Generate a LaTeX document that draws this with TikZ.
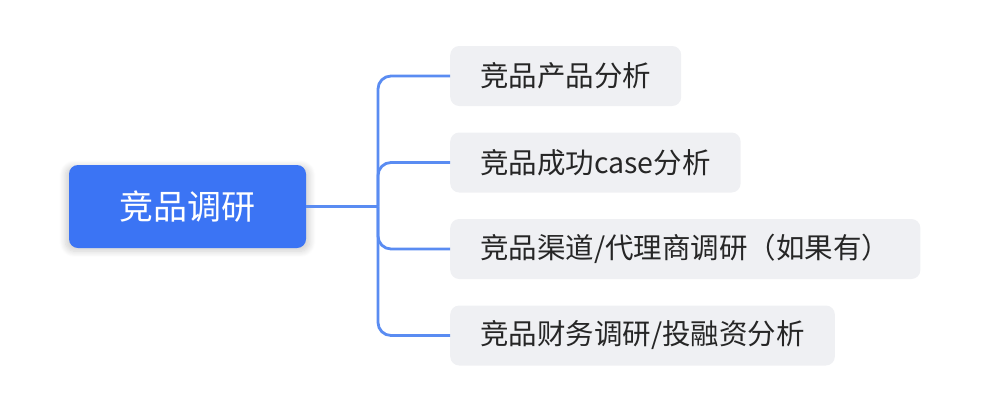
\documentclass[tikz,border=0pt]{standalone}
\usepackage{fontspec}
\setmainfont{Noto Sans CJK SC}
\usetikzlibrary{shadows.blur}

\definecolor{rootblue}{HTML}{3B74F4}
\definecolor{linkblue}{HTML}{5A8CF2}
\definecolor{leafgray}{HTML}{EFF0F3}
\definecolor{leaftext}{HTML}{262626}

\tikzset{
  rootbox/.style={fill=rootblue, text=white, rounded corners=9pt,
    minimum height=83pt, inner xsep=50pt, font=\fontsize{34}{40}\selectfont,
    blur shadow={shadow blur steps=8, shadow xshift=0pt, shadow yshift=-2pt,
      shadow opacity=18, shadow scale=1.03, shadow blur radius=6pt}},
  leafbox/.style={fill=leafgray, text=leaftext, rounded corners=9pt,
    minimum height=60pt, inner xsep=30pt, anchor=west,
    font=\fontsize{28.5}{34}\selectfont},
  link/.style={draw=linkblue, line width=2.8pt}
}

\begin{document}
\begin{tikzpicture}[x=1pt,y=-1pt]

\useasboundingbox
(0,0)
rectangle
(1006,410);

% Racine
\node[rootbox, minimum width=237pt] (root)
at (187.5,206.5)
{竞品调研};

% Feuilles
\node[leafbox] (prod)
at (450,76)
{竞品产品分析};

\node[leafbox] (case)
at (450,162.5)
{竞品成功case分析};

\node[leafbox] (chan)
at (450,249)
{竞品渠道/代理商调研（如果有）};

\node[leafbox] (fin)
at (450,335.5)
{竞品财务调研/投融资分析};

% Liens
\coordinate (trunk) at (378,206.5);

\draw[link]
(root.east)
--
(trunk);

\draw[link, rounded corners=13pt]
(trunk) |- (prod.west);

\draw[link, rounded corners=13pt]
(trunk) |- (case.west);

\draw[link, rounded corners=13pt]
(trunk) |- (chan.west);

\draw[link, rounded corners=13pt]
(trunk) |- (fin.west);

\end{tikzpicture}
\end{document}
